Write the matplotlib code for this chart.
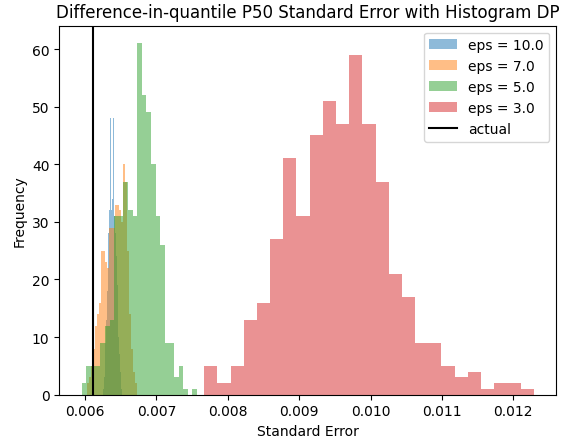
#!/usr/bin/env python3
"""Difference-in-quantile P50 standard error histograms for several eps values."""
import numpy as np
import matplotlib
matplotlib.use("Agg")
import matplotlib.pyplot as plt

# bin counts (25 bins each, 500 samples)
eps_labels = ["eps = 10.0", "eps = 7.0", "eps = 5.0", "eps = 3.0"]
ranges = [
    (0.006254, 0.006520),
    (0.006029, 0.006730),
    (0.005957, 0.007570),
    (0.007670, 0.012286),
]
counts_10 = [1, 3, 6, 9, 13, 18, 23, 28, 32, 48, 33, 32, 34, 48, 31, 31,
             28, 24, 19, 13, 10, 7, 4, 2, 1]
counts_7 = [2, 3, 5, 8, 12, 14, 16, 25, 25, 23, 22, 29, 29, 29, 33, 33,
            32, 30, 40, 37, 25, 14, 8, 4, 2]
counts_5 = [2, 5, 5, 5, 9, 12, 13, 31, 31, 37, 32, 31, 61, 52, 49, 40,
            31, 26, 9, 9, 3, 5, 1, 0, 1]
counts_3 = [5, 2, 5, 13, 16, 27, 41, 31, 45, 51, 47, 59, 47, 37, 21, 17,
            9, 9, 5, 3, 4, 1, 2, 2, 1]
actual_se = 0.006112

all_counts = [counts_10, counts_7, counts_5, counts_3]

fig = plt.figure(figsize=(5.75, 4.39), dpi=100)
ax = fig.add_axes([0.1031, 0.0986, 0.8644, 0.8406])

for (lo, hi), counts, label in zip(ranges, all_counts, eps_labels):
    edges = np.linspace(lo, hi, len(counts) + 1)
    centers = 0.5 * (edges[:-1] + edges[1:])
    ax.hist(centers, bins=edges, weights=counts, alpha=0.5, label=label)

ax.axvline(actual_se, color="black", label="actual")

ax.set_title("Difference-in-quantile P50 Standard Error with Histogram DP")
ax.set_xlabel("Standard Error")
ax.set_ylabel("Frequency")
ax.legend(loc="upper right")

fig.savefig("out.png", dpi=100)
